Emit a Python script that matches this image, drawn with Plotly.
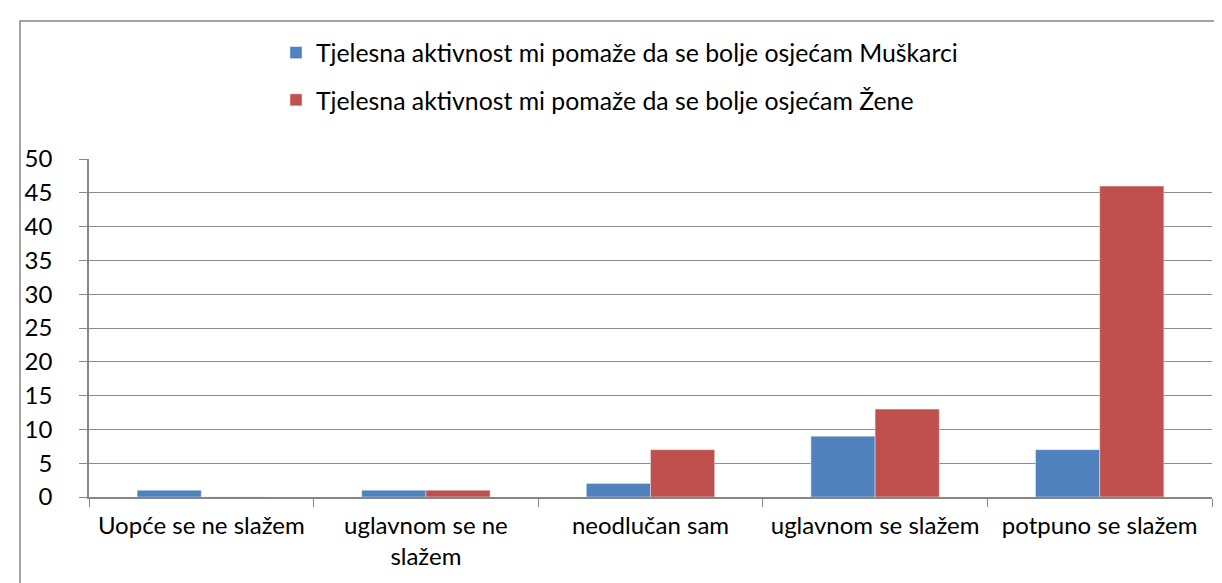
import plotly.graph_objects as go

# kategorije i vrijednosti
kategorije = ["Uopće se ne slažem", "uglavnom se ne<br>slažem", "neodlučan sam",
              "uglavnom se slažem", "potpuno se slažem"]
muskarci = [1, 1, 2, 9, 7]
zene = [0, 1, 7, 13, 46]
naziv_m = "Tjelesna aktivnost mi pomaže da se bolje osjećam Muškarci"
naziv_z = "Tjelesna aktivnost mi pomaže da se bolje osjećam Žene"
y_ticks = list(range(0, 51, 5))

font = dict(family="Lato, Carlito, Calibri, sans-serif", size=24, color="black")

fig = go.Figure()
fig.add_trace(go.Bar(x=kategorije, y=muskarci, name=naziv_m,
                     marker_color="#4F81BD", legendgroup="m"))
fig.add_trace(go.Bar(x=kategorije, y=zene, name=naziv_z,
                     marker_color="#C0504D", legendgroup="z"))

W, H = 1222, 583
L, R, T, B = 81, 18, 151, 94
pw, ph = W - L - R, H - T - B

def px_x(x):
    return (x - L) / pw

def px_y(y):
    return 1 - (y - T) / ph

fig.update_layout(
    width=W, height=H,
    margin=dict(l=L, r=R, t=T, b=B),
    plot_bgcolor="white", paper_bgcolor="white",
    font=font,
    barmode="group", bargap=1.5 / 3.5, bargroupgap=0,
    showlegend=True,
    legend=dict(x=px_x(268), y=px_y(22), xanchor="left", yanchor="top",
                font=dict(font, size=24.8), bgcolor="rgba(0,0,0,0)", itemwidth=30,
                tracegroupgap=12, traceorder="grouped"),
    shapes=[dict(type="rect", xref="paper", yref="paper",
                 x0=px_x(12), x1=1.2, y0=px_y(13), y1=-0.6,
                 line=dict(color="#868686", width=1.5), layer="below")],
)

fig.update_xaxes(
    showline=True, linecolor="#868686", linewidth=1.5,
    ticks="outside", tickson="boundaries", ticklen=8, tickcolor="#868686",
    ticklabelstandoff=6, showgrid=False,
)
fig.update_yaxes(
    range=[0, 50], tickvals=y_ticks,
    showline=True, linecolor="#868686", linewidth=1.5,
    ticks="outside", ticklen=8, tickcolor="#868686", ticklabelstandoff=22,
    showgrid=True, gridcolor="#8c8c8c", gridwidth=1.2, zeroline=False,
)

fig.write_html("out.html")
